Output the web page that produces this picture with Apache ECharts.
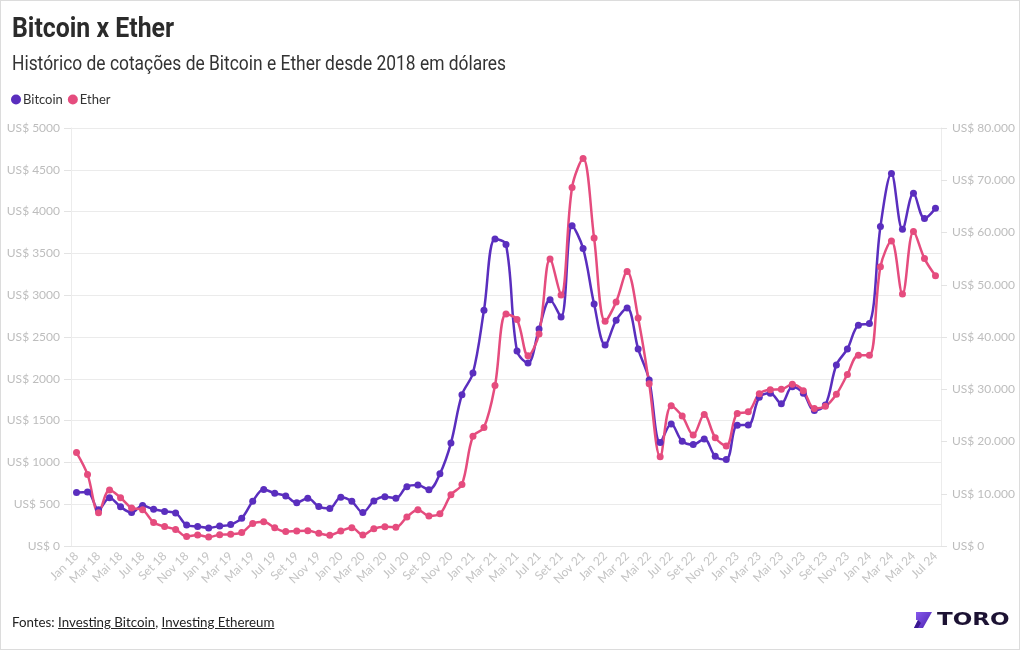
<!DOCTYPE html>
<html>
<head>
<meta charset="utf-8">
<script src="https://cdn.jsdelivr.net/npm/echarts@6/dist/echarts.min.js"></script>
<style>
  html, body { margin: 0; padding: 0; background: #fff; }
  #wrap { position: relative; width: 1020px; height: 650px; }
  #chart { position: absolute; left: 0; top: 0; width: 1020px; height: 650px; }
  #frame { position: absolute; left: 0; top: 0; width: 1020px; height: 650px; box-sizing: border-box; border: 1px solid #dcdcdc; pointer-events: none; }
  #fontes { position: absolute; left: 12px; top: 614px; font: 13.3px Lato, 'Open Sans', sans-serif; color: #222; }
  #fontes a { color: #222; text-decoration: underline; }
</style>
</head>
<body>
<div id="wrap">
  <div id="chart"></div>
  <div id="frame"></div>
  <div id="fontes">Fontes: <a href="#">Investing Bitcoin</a>, <a href="#">Investing Ethereum</a></div>
</div>
<script>
// monthly closes, Jan 2018 .. Jul 2024
const months = ['Jan', 'Fev', 'Mar', 'Abr', 'Mai', 'Jun', 'Jul', 'Ago', 'Set', 'Out', 'Nov', 'Dez']
const years = ['18', '19', '20', '21', '22', '23', '24']
const categories = []
years.forEach((y) => {
  months.forEach((m, i) => {
    if (y === '24' && i > 6) return
    categories.push(m + ' ' + y)
  })
})

const bitcoin = [
  10221, 10326, 6926, 9245, 7495, 6391, 7729, 7033, 6626, 6318, 4017, 3742,
  3457, 3819, 4103, 5320, 8558, 10818, 10082, 9589, 8294, 9152, 7546, 7194,
  9350, 8544, 6412, 8630, 9446, 9135, 11351, 11655, 10777, 13804, 19700, 28949,
  33108, 45137, 58740, 57720, 37298, 35045, 41553, 47130, 43824, 61300, 56950, 46306,
  38483, 43193, 45538, 37714, 31792, 19785, 23336, 20050, 19423, 20496, 17168, 16547,
  23125, 23147, 28473, 29253, 27216, 30472, 29232, 25940, 26962, 34640, 37713, 42265,
  42580, 61130, 71289, 60610, 67491, 62678, 64620
]
const ether = [
  1118, 856, 397, 670, 578, 455, 433, 282, 232, 198, 114, 133,
  107, 136, 141, 160, 268, 291, 218, 172, 180, 183, 152, 130,
  180, 218, 133, 207, 231, 225, 346, 435, 360, 386, 614, 737,
  1312, 1417, 1919, 2774, 2708, 2275, 2537, 3433, 3002, 4289, 4634, 3683,
  2688, 2920, 3283, 2727, 1942, 1067, 1679, 1554, 1329, 1572, 1296, 1196,
  1585, 1605, 1822, 1870, 1874, 1934, 1857, 1645, 1671, 1815, 2052, 2282,
  2283, 3340, 3647, 3013, 3763, 3438, 3232
]

const purple = '#5a2ebe'
const pink = '#e54c7e'
const labelFont = 'Lato, "Open Sans", sans-serif'
const dotted = (v) => String(v).replace(/\B(?=(\d{3})+(?!\d))/g, '.')

const chart = echarts.init(document.getElementById('chart'))
chart.setOption({
  animation: false,
  legend: {
    left: 6,
    top: 88,
    icon: 'circle',
    itemWidth: 10,
    itemHeight: 10,
    itemGap: 5,
    textStyle: { fontFamily: labelFont, fontSize: 13, color: '#333', padding: [0, 0, 0, -3] },
    data: ['Bitcoin', 'Ether']
  },
  grid: { left: 71, right: 79, top: 128, bottom: 104 },
  xAxis: [
    {
      type: 'category',
      data: categories,
      boundaryGap: true,
      axisLine: { lineStyle: { color: '#e6e6e6' } },
      axisTick: { alignWithLabel: true, interval: 0, length: 5, lineStyle: { color: '#e0e0e0' } },
      axisLabel: { interval: 1, rotate: 45, color: '#c4c4c4', fontSize: 12, fontFamily: labelFont, margin: 8 },
      splitLine: { show: false }
    },
    {
      type: 'category',
      data: categories,
      position: 'bottom',
      boundaryGap: true,
      axisLine: { show: false },
      axisLabel: { show: false },
      axisTick: { alignWithLabel: true, interval: 0, inside: true, length: 418, lineStyle: { color: '#efefef' } },
      splitLine: { show: false }
    }
  ],
  yAxis: [
    {
      type: 'value',
      position: 'left',
      min: 0,
      max: 5000,
      interval: 500,
      axisLine: { show: true, lineStyle: { color: '#ececec' } },
      axisTick: { show: true, length: 7, lineStyle: { color: '#e3e3e3' } },
      axisLabel: { formatter: (v) => 'US$ ' + v, color: '#bdbdbd', fontSize: 12, fontFamily: labelFont, margin: 11 },
      splitLine: { lineStyle: { color: '#ebebeb' } }
    },
    {
      type: 'value',
      position: 'right',
      min: 0,
      max: 80000,
      interval: 10000,
      axisLine: { show: true, lineStyle: { color: '#ececec' } },
      axisTick: { show: true, length: 6, lineStyle: { color: '#e3e3e3' } },
      axisLabel: { formatter: (v) => 'US$ ' + dotted(v), color: '#bdbdbd', fontSize: 12, fontFamily: labelFont, margin: 11 },
      splitLine: { show: false }
    }
  ],
  series: [
    {
      name: 'Bitcoin',
      type: 'line',
      yAxisIndex: 1,
      data: bitcoin,
      smooth: 0.35,
      symbol: 'circle',
      symbolSize: 7,
      showAllSymbol: true,
      color: purple,
      lineStyle: { width: 2.5, color: purple },
      itemStyle: { color: purple }
    },
    {
      name: 'Ether',
      type: 'line',
      yAxisIndex: 0,
      data: ether,
      smooth: 0.35,
      symbol: 'circle',
      symbolSize: 7,
      showAllSymbol: true,
      color: pink,
      lineStyle: { width: 2.5, color: pink },
      itemStyle: { color: pink }
    }
  ],
  graphic: [
    {
      type: 'text',
      x: 12,
      y: 44,
      scaleX: 0.92,
      style: {
        text: 'Bitcoin x Ether',
        fontFamily: 'Roboto',
        fontWeight: 'bold',
        fontSize: 27,
        fill: '#2b2b2b',
        verticalAlign: 'bottom'
      }
    },
    {
      type: 'text',
      x: 12,
      y: 75,
      scaleX: 0.87,
      style: {
        text: 'Histórico de cotações de Bitcoin e Ether desde 2018 em dólares',
        fontFamily: 'Roboto',
        fontSize: 20,
        fill: '#333',
        verticalAlign: 'bottom'
      }
    },
    {
      type: 'polygon',
      shape: { points: [[916, 612], [932, 612], [923, 628], [914, 628], [918, 620], [916, 620]] },
      style: {
        fill: new echarts.graphic.LinearGradient(0, 0, 1, 1, [
          { offset: 0, color: '#8a5cf0' },
          { offset: 1, color: '#4b22b0' }
        ])
      }
    },
    {
      type: 'polygon',
      shape: { points: [[914, 628], [918, 620], [921, 623], [918, 628]] },
      style: { fill: '#3a1890' }
    },
    {
      type: 'text',
      x: 937,
      y: 611,
      scaleX: 1.28,
      style: { text: 'TORO', fontFamily: 'DejaVu Sans', fontWeight: 'bold', fontSize: 18, fill: '#1c1233' }
    }
  ]
})
</script>
</body>
</html>
